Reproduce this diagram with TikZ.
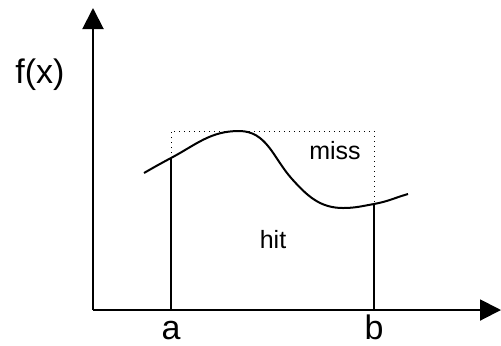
\documentclass[tikz,border=0pt]{standalone}
\usepackage{fontspec}
\setmainfont{Liberation Sans}
\usetikzlibrary{arrows.meta}
\tikzset{
  axis/.style={line width=1pt,-{Triangle[length=10.5pt,width=10.5pt]}},
  bound/.style={line width=1pt},
  curve/.style={line width=1pt},
  hitbox/.style={line width=0.5pt,dotted},
  biglbl/.style={font=\fontsize{17}{20}\selectfont,anchor=base,inner sep=0pt},
  smalllbl/.style={font=\fontsize{12.5}{15}\selectfont,anchor=base,inner sep=0pt}
}
\begin{document}
\begin{tikzpicture}[x=0.5pt,y=0.5pt]
    \useasboundingbox (0,0) rectangle (501,345);
    % axes
    \coordinate (O) at (93,35);
    \coordinate (ytip) at (93,337);
    \coordinate (xtip) at (501,35);
    \draw [axis] (O) -- (ytip);
    \draw [axis] (O) -- (xtip);
    % limits
    \coordinate (A) at (171,35);
    \coordinate (B) at (374,35);
    \coordinate (fa) at (171,187);
    \coordinate (fb) at (374,141);
    \coordinate (ta) at (171,214);
    \coordinate (tb) at (374,214);
    \draw [bound] (A) -- (fa);
    \draw [bound] (B) -- (fb);
    \draw [hitbox] (fa) -- (ta) -- (tb) -- (fb);
    % function
    \coordinate (peak) at (239,214);
    \coordinate (turn) at (292,166);
    \coordinate (low) at (343,137);
    \draw [curve] (144,172) to[out=30,in=208] (fa) to[out=28,in=180] (peak)
        to[out=0,in=132] (turn) to[out=-48,in=180] (low)
        to[out=0,in=190] (fb) to[out=10,in=196] (408,151);
    % labels
    \node [biglbl] (fx) at (40,262) {f(x)};
    \node [biglbl] (la) at (A |- 0,6) {a};
    \node [biglbl] (lb) at (B |- 0,6) {b};
    \node [smalllbl] (miss) at (335,186) {miss};
    \node [smalllbl] (hit) at (273,97) {hit};
\end{tikzpicture}
\end{document}
